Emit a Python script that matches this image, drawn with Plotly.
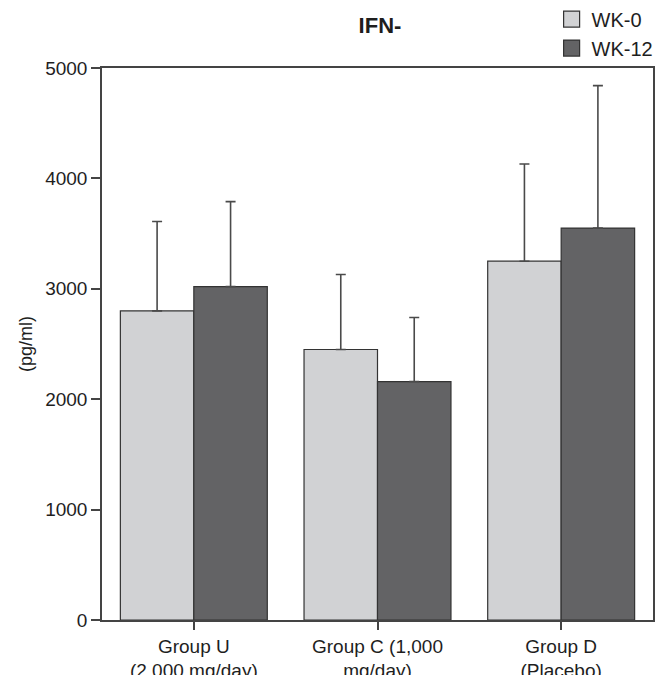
import plotly.graph_objects as go

categories = ["Group U<br>(2,000 mg/day)", "Group C (1,000<br>mg/day)", "Group D<br>(Placebo)"]
series_names = ["WK-0", "WK-12"]
wk0_values = [2800, 2450, 3250]
wk0_err = [810, 680, 880]
wk12_values = [3020, 2160, 3550]
wk12_err = [770, 580, 1290]
y_ticks = [0, 1000, 2000, 3000, 4000, 5000]

colors = ["#d1d2d4", "#636365"]
FONT = "Liberation Sans, Arial, sans-serif"
TXT = "#1e1e1e"

# page body has an 8px margin; size the figure so it fits the 664x675 window
W, H = 656, 667

fig = go.Figure()
for name, vals, errs, col in [(series_names[0], wk0_values, wk0_err, colors[0]),
                              (series_names[1], wk12_values, wk12_err, colors[1])]:
    fig.add_trace(go.Bar(
        name=name, x=categories, y=vals, showlegend=False,
        marker=dict(color=col, line=dict(color="#333333", width=1.2)),
        error_y=dict(type="data", array=errs, arrayminus=[0] * len(errs), symmetric=False,
                     color="#4a4a4a", thickness=1.6, width=5),
    ))
# legend-only entries with larger square symbols
for name, col in zip(series_names, colors):
    fig.add_trace(go.Scatter(
        name=name, x=[None], y=[None], mode="markers",
        marker=dict(symbol="square", size=17, color=col, line=dict(color="#333333", width=1.2)),
        showlegend=True,
    ))

fig.update_layout(
    width=W, height=H,
    margin=dict(l=94, r=11, t=60, b=55, autoexpand=False),
    paper_bgcolor="white", plot_bgcolor="white",
    barmode="group", bargap=0.2, bargroupgap=0,
    font=dict(family=FONT, size=19, color=TXT),
    title=dict(text="<b>IFN-</b>", x=(380 - 102) / 551, xref="paper", xanchor="center",
               y=1 - 17 / H, yanchor="middle", font=dict(family=FONT, size=22, color=TXT)),
    legend=dict(x=0.816, y=1.124, xanchor="left", yanchor="top",
                font=dict(family=FONT, size=20, color=TXT), bgcolor="rgba(0,0,0,0)",
                itemwidth=30),
    showlegend=True,
    xaxis=dict(showline=True, linecolor="#444444", linewidth=1.5, mirror=True,
               ticks="outside", ticklen=8, tickcolor="#444444", tickwidth=1.5,
               tickfont=dict(family=FONT, size=19, color=TXT), showgrid=False,
               automargin=False),
    yaxis=dict(range=[0, 5000], tickvals=y_ticks, showline=True, linecolor="#444444",
               linewidth=1.5, mirror=True, ticks="outside", ticklen=9,
               tickcolor="#444444", tickwidth=1.5, showgrid=False, zeroline=False,
               tickfont=dict(family=FONT, size=19, color=TXT), automargin=False,
               title=dict(text="(pg/ml)", font=dict(family=FONT, size=18, color=TXT),
                          standoff=8)),
)

fig.write_html("out.html")
